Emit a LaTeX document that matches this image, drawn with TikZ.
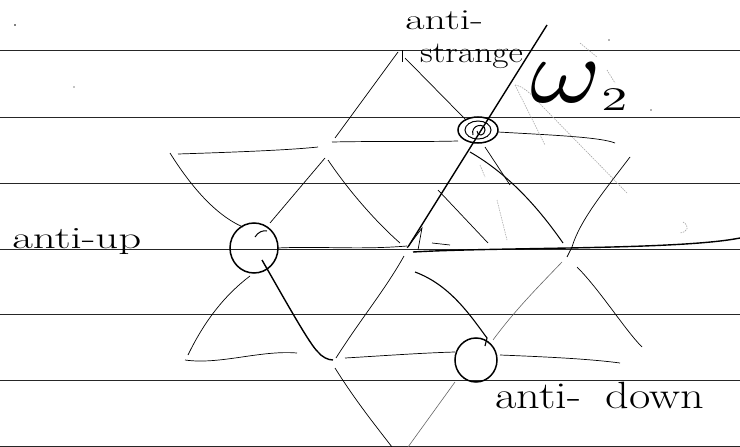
\documentclass[tikz,border=0pt]{standalone}
\usepackage{graphicx}
\usetikzlibrary{shapes.geometric}
\begin{document}
\begin{tikzpicture}[x=1pt,y=-1pt,
  rule/.style={line width=0.9pt, black!85},
  ink/.style={line width=0.7pt, black},
  lite/.style={line width=0.6pt, black!60},
  bold/.style={line width=1.4pt, black},
  faint/.style={line width=0.6pt, black!35, dash pattern=on 1.5pt off 1pt},
  ring/.style={draw, ellipse, line width=1.5pt, inner sep=0pt},
  hand/.style={inner sep=0pt, anchor=base west}]
\useasboundingbox (0,0) rectangle (740,447);
\fill[white] (0,0) rectangle (740,447);
% ruled paper
\foreach \y in {50,117,183,249,314,380,446} \draw[rule] (0,\y) -- (740,\y);
% specks
\fill (15,25) circle (0.9pt);
\fill (74,87) circle (0.7pt);
\fill[black!60] (609,40) circle (0.8pt);
\fill[black!60] (651,110) circle (0.8pt);
% rings
\node[ring, minimum width=48pt, minimum height=50pt] (au) at (254,248) {};
\node[ring, minimum width=40pt, minimum height=26pt] (as) at (478,130) {};
\node[ring, minimum width=26pt, minimum height=18pt, line width=1pt] (asi) at (478,130) {};
\node[ring, minimum width=42pt, minimum height=44pt] (ad) at (476,360) {};
\draw[line width=1pt] (473,135) .. controls (470,125) and (485,122) .. (485,130) .. controls (485,136) and (477,137) .. (477,131);
\draw[line width=1pt] (255,237) .. controls (258,232) and (263,230) .. (267,231);
% upper horizontals
\draw[ink] (178,154) .. controls (240,152) and (290,150) .. (318,147);
\draw[ink] (332,142) .. controls (380,141) and (420,142) .. (458,141);
\draw[ink] (498,132) .. controls (550,135) and (600,137) .. (615,143);
% top apex
\draw[ink] (398,52) -- (335,138);
\draw[ink] (402,50) -- (402,62);
\draw[ink] (405,58) -- (466,120);
% omega_2 axis
\draw[bold] (547,25) -- (408,247);
% left upper part
\draw[ink] (170,153) .. controls (190,185) and (215,215) .. (243,227);
\draw[ink] (325,158) -- (270,223);
\draw[ink] (328,160) .. controls (355,200) and (385,230) .. (400,243);
% middle row
\draw[ink] (278,248) .. controls (320,246) and (360,250) .. (407,246);
\draw[bold] (413,252) .. controls (500,247) and (680,250) .. (740,238);
\draw[ink] (407,248) -- (422,228) -- (418,250);
\draw[ink] (432,243) -- (450,245);
% right upper part
\draw[line width=1pt] (470,152) .. controls (510,175) and (540,210) .. (563,243);
\draw[ink] (485,147) -- (510,185);
\draw[ink] (438,190) -- (488,243);
\draw[ink] (630,157) .. controls (605,190) and (580,220) .. (572,247) -- (567,257);
\draw[lite] (562,262) .. controls (540,285) and (515,310) .. (493,340);
\draw[ink] (577,267) .. controls (600,290) and (625,330) .. (642,347);
% lower row
\draw[ink] (500,355) .. controls (550,357) and (590,359) .. (620,363);
\draw[ink] (345,358) .. controls (380,356) and (420,353) .. (455,352);
\draw[ink] (185,360) .. controls (220,365) and (260,350) .. (297,353);
\draw[ink] (188,355) .. controls (205,320) and (225,295) .. (250,276);
\draw[bold] (262,260) .. controls (285,300) and (310,345) .. (318,352) .. controls (322,357) and (328,360) .. (333,360);
\draw[ink] (336,358) .. controls (360,320) and (385,290) .. (404,256);
\draw[ink] (335,368) .. controls (355,400) and (375,425) .. (392,447);
\draw[lite] (455,382) -- (408,447);
\draw[line width=1.1pt] (415,272) .. controls (450,285) and (470,315) .. (487,338) -- (485,346);
% faint hatching
\draw[faint] (515,85) -- (545,145);
\draw[faint] (515,85) .. controls (522,86) and (530,92) .. (543,107) -- (627,193);
\draw[faint] (480,165) -- (485,177);
\draw[faint] (497,200) -- (507,240);
\draw[faint] (580,43) -- (597,57);
\draw[faint] (607,70) -- (615,83);
\draw[faint] (683,222) .. controls (690,226) and (688,232) .. (680,233);
% labels
\node[hand, font=\fontsize{31}{33}\selectfont, xscale=1.45] (tup) at (12,248) {anti-up};
\node[hand, font=\fontsize{29}{31}\selectfont, xscale=1.45] (ta) at (405,30) {anti-};
\node[hand, font=\fontsize{30}{32}\selectfont, xscale=1.18] (ts) at (420,63) {strange};
\node[hand, font=\fontsize{38}{40}\selectfont, xscale=1.22] (td) at (495,408) {anti-\hspace{20pt}down};
\node[hand] (w) at (530,102) {\scalebox{10.8}[9.2]{$\omega$}\raisebox{-8pt}{\scalebox{5.2}[3.3]{2}}};
\end{tikzpicture}
\end{document}
